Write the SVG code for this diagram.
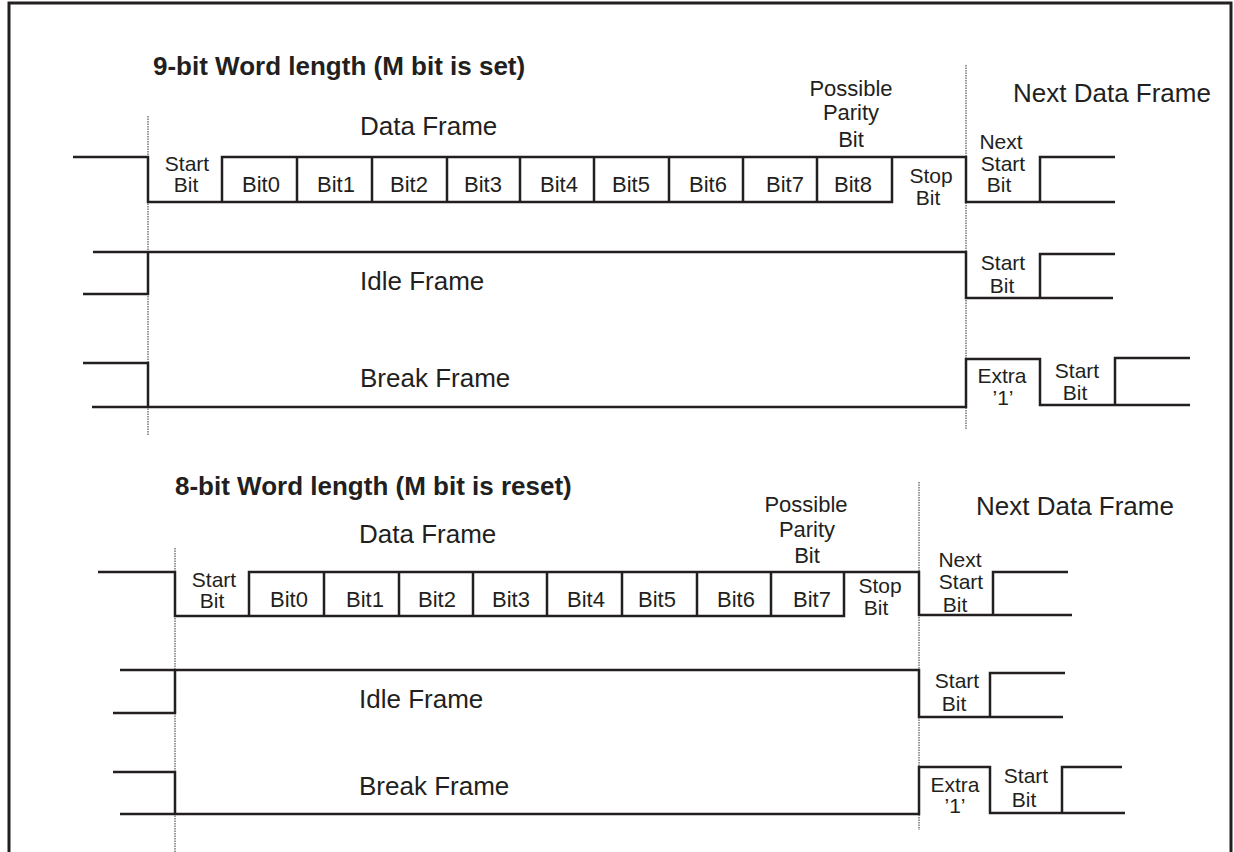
<svg xmlns="http://www.w3.org/2000/svg" width="1234" height="852" viewBox="0 0 1234 852">
<style>
.w{fill:none;stroke:#231f20;stroke-width:2.5;stroke-linejoin:miter;stroke-linecap:butt}
.d{fill:none;stroke:#6d6d6d;stroke-width:1.4;stroke-dasharray:1.5 1}
.b{fill:none;stroke:#231f20;stroke-width:3}
text{font-family:"Liberation Sans",Arial,sans-serif;fill:#231f20;text-anchor:middle}
.t{font-size:26px;font-weight:bold;text-anchor:start}
.l{font-size:26px;text-anchor:start}
.s{font-size:22px}
.c{font-size:21px}
</style>
<rect x="0" y="0" width="1234" height="852" fill="#fff"/>
<path class="b" d="M9,852 V3 H1231 V852"/>
<g id="connectors">
<path class="d" d="M148,116 V435"/>
<path class="d" d="M966,65 V430"/>
<path class="d" d="M175,548 V852"/>
<path class="d" d="M919,482 V830"/>
</g>
<g id="nine-bit">
<text class="t" x="153" y="75">9-bit Word length (M bit is set)</text>
<g id="data-frame-9">
<path class="w" d="M73,157 H148 V202 H892 V157"/>
<path class="w" d="M222,202 V157 H966 V202 H1040 V157 H1115 M1040,202 H1115"/>
<path class="w" d="M297,157 V202 M372,157 V202 M447,157 V202 M520,157 V202 M594,157 V202 M669,157 V202 M743,157 V202 M817,157 V202"/>
<text class="l" x="360" y="135">Data Frame</text>
<text class="s" x="851" y="96">Possible</text>
<text class="s" x="851" y="120">Parity</text>
<text class="s" x="851" y="147">Bit</text>
<text class="c" x="187" y="171">Start</text>
<text class="c" x="186" y="192">Bit</text>
<text class="s" x="261" y="192">Bit0</text>
<text class="s" x="336" y="192">Bit1</text>
<text class="s" x="409" y="192">Bit2</text>
<text class="s" x="483" y="192">Bit3</text>
<text class="s" x="559" y="192">Bit4</text>
<text class="s" x="631" y="192">Bit5</text>
<text class="s" x="708" y="192">Bit6</text>
<text class="s" x="785" y="192">Bit7</text>
<text class="s" x="853" y="192">Bit8</text>
<text class="c" x="931" y="183">Stop</text>
<text class="c" x="928" y="205">Bit</text>
<text class="c" x="1001" y="149">Next</text>
<text class="c" x="1003" y="171">Start</text>
<text class="c" x="999" y="192">Bit</text>
<text class="l" x="1013" y="102">Next Data Frame</text>
</g>
<g id="idle-frame-9">
<path class="w" d="M93,252 H966 V298 H1040 V254 H1115 M1040,298 H1113"/>
<path class="w" d="M83,294 H148 V252"/>
<text class="l" x="360" y="290">Idle Frame</text>
<text class="c" x="1003" y="270">Start</text>
<text class="c" x="1002" y="293">Bit</text>
</g>
<g id="break-frame-9">
<path class="w" d="M83,363 H148 V407"/>
<path class="w" d="M92,407 H966 V359 H1040 V405 H1115 V358 H1190 M1115,405 H1190"/>
<text class="l" x="360" y="387">Break Frame</text>
<text class="c" x="1002" y="383">Extra</text>
<text class="c" x="1003" y="405">’1’</text>
<text class="c" x="1077" y="378">Start</text>
<text class="c" x="1075" y="400">Bit</text>
</g>
</g>
<g id="eight-bit">
<text class="t" x="175" y="495">8-bit Word length (M bit is reset)</text>
<g id="data-frame-8">
<path class="w" d="M98,572 H175 V616 H844 V572"/>
<path class="w" d="M249,616 V572 H919 V615 H993 V572 H1068 M993,615 H1072"/>
<path class="w" d="M324,572 V616 M399,572 V616 M473,572 V616 M547,572 V616 M622,572 V616 M697,572 V616 M771,572 V616"/>
<text class="l" x="359" y="543">Data Frame</text>
<text class="s" x="806" y="512">Possible</text>
<text class="s" x="807" y="537">Parity</text>
<text class="s" x="807" y="563">Bit</text>
<text class="c" x="214" y="587">Start</text>
<text class="c" x="212" y="608">Bit</text>
<text class="s" x="289" y="607">Bit0</text>
<text class="s" x="365" y="607">Bit1</text>
<text class="s" x="437" y="607">Bit2</text>
<text class="s" x="511" y="607">Bit3</text>
<text class="s" x="586" y="607">Bit4</text>
<text class="s" x="657" y="607">Bit5</text>
<text class="s" x="736" y="607">Bit6</text>
<text class="s" x="812" y="607">Bit7</text>
<text class="c" x="880" y="593">Stop</text>
<text class="c" x="876" y="615">Bit</text>
<text class="c" x="960" y="567">Next</text>
<text class="c" x="961" y="589">Start</text>
<text class="c" x="955" y="612">Bit</text>
<text class="l" x="976" y="515">Next Data Frame</text>
</g>
<g id="idle-frame-8">
<path class="w" d="M120,670 H919 V717 H990 V673 H1065 M990,717 H1063"/>
<path class="w" d="M113,713 H175 V670"/>
<text class="l" x="359" y="708">Idle Frame</text>
<text class="c" x="957" y="688">Start</text>
<text class="c" x="954" y="711">Bit</text>
</g>
<g id="break-frame-8">
<path class="w" d="M113,772 H175 V814"/>
<path class="w" d="M120,814 H919 V767 H990 V813 H1062 V767 H1122 M1062,813 H1125"/>
<text class="l" x="359" y="795">Break Frame</text>
<text class="c" x="955" y="792">Extra</text>
<text class="c" x="955" y="813">’1’</text>
<text class="c" x="1026" y="783">Start</text>
<text class="c" x="1024" y="807">Bit</text>
</g>
</g>
</svg>
